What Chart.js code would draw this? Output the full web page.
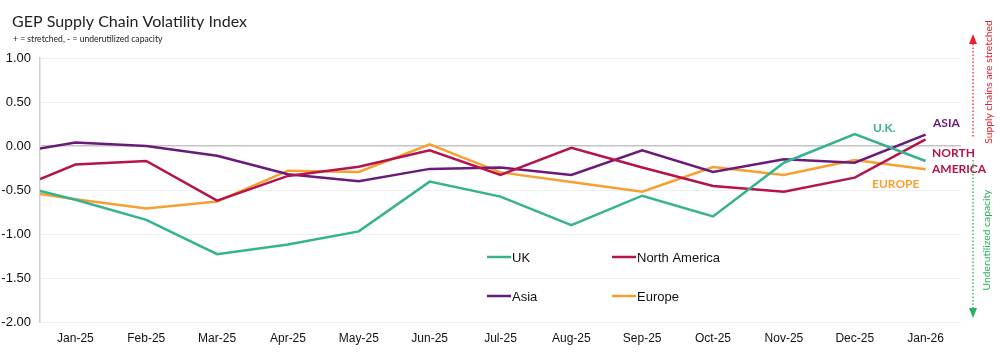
<!DOCTYPE html>
<html>
<head>
<meta charset="utf-8">
<script src="https://cdn.jsdelivr.net/npm/chart.js@4.4.1/dist/chart.umd.min.js"></script>
<style>
  html, body { margin: 0; padding: 0; background: #ffffff; }
  #wrap { width: 1000px; height: 357px; position: relative; }
</style>
</head>
<body>
<div id="wrap"><canvas id="c" width="1000" height="357"></canvas></div>
<script>
// ---- data ----
const months = ['Jan-25','Feb-25','Mar-25','Apr-25','May-25','Jun-25','Jul-25','Aug-25','Sep-25','Oct-25','Nov-25','Dec-25','Jan-26'];
// first value in each series is the value at the left edge of the plot (before Jan-25)
const ukValues     = [-0.51, -0.61, -0.84, -1.23, -1.12, -0.97, -0.405, -0.575, -0.90, -0.565, -0.80, -0.19, 0.135, -0.17];
const naValues     = [-0.375, -0.21, -0.17, -0.62, -0.34, -0.235, -0.05, -0.33, -0.02, -0.245, -0.455, -0.52, -0.36, 0.075];
const asiaValues   = [-0.03, 0.04, 0.00, -0.11, -0.32, -0.40, -0.26, -0.245, -0.33, -0.05, -0.295, -0.15, -0.19, 0.13];
const europeValues = [-0.545, -0.605, -0.71, -0.63, -0.28, -0.295, 0.02, -0.30, -0.41, -0.52, -0.24, -0.33, -0.16, -0.265];
const yTicks = [1.0, 0.5, 0.0, -0.5, -1.0, -1.5, -2.0];

const C_UK = '#35b28f', C_NA = '#b5134b', C_ASIA = '#6a1a78', C_EU = '#f5a031';

function toPoints(vals) {
  return vals.map((v, i) => ({ x: i === 0 ? -0.5 : i - 1, y: v }));
}

const FONT = '"Liberation Sans", Arial, sans-serif';
const CAL = 'Lato, "Open Sans", sans-serif';

const overlay = {
  id: 'overlay',
  afterDraw(chart) {
    const ctx = chart.ctx;
    ctx.save();
    // title
    ctx.fillStyle = '#222';
    ctx.textBaseline = 'alphabetic';
    ctx.textAlign = 'left';
    ctx.font = '16px ' + CAL;
    ctx.fillText('GEP Supply Chain Volatility Index', 12, 27);
    ctx.font = '8.6px ' + CAL;
    ctx.fillText('+ = stretched, - = underutilized capacity', 13, 42);

    // legend
    const ds = chart.data.datasets;
    const pos = [[487, 257], [612, 257], [487, 296], [612, 296]];
    ctx.font = '13px ' + FONT;
    ctx.textBaseline = 'middle';
    ds.forEach((d, i) => {
      const [lx, ly] = pos[i];
      ctx.strokeStyle = d.borderColor;
      ctx.lineWidth = 2.5;
      ctx.beginPath();
      ctx.moveTo(lx, ly);
      ctx.lineTo(lx + 24, ly);
      ctx.stroke();
      ctx.fillStyle = '#111';
      ctx.fillText(d.label, lx + 25, ly + 1);
    });

    // end labels
    ctx.font = 'bold 12px ' + CAL;
    ctx.textBaseline = 'middle';
    ctx.fillStyle = C_UK;   ctx.fillText('U.K.', 873, 128);
    ctx.fillStyle = C_ASIA; ctx.fillText('ASIA', 933, 123);
    ctx.fillStyle = C_NA;   ctx.fillText('NORTH', 932, 153); ctx.fillText('AMERICA', 932, 169);
    ctx.fillStyle = C_EU;   ctx.fillText('EUROPE', 872, 184);

    // right-side arrows
    const ax = 973;
    ctx.lineWidth = 1.3;
    ctx.setLineDash([1.5, 2]);
    ctx.strokeStyle = '#e8202a';
    ctx.beginPath(); ctx.moveTo(ax, 44); ctx.lineTo(ax, 138); ctx.stroke();
    ctx.strokeStyle = '#27b35a';
    ctx.beginPath(); ctx.moveTo(ax, 160); ctx.lineTo(ax, 308); ctx.stroke();
    ctx.setLineDash([]);
    ctx.fillStyle = '#e8202a';
    ctx.beginPath(); ctx.moveTo(ax, 34); ctx.lineTo(ax - 4, 44); ctx.lineTo(ax + 4, 44); ctx.closePath(); ctx.fill();
    ctx.fillStyle = '#27b35a';
    ctx.beginPath(); ctx.moveTo(ax, 318); ctx.lineTo(ax - 4, 308); ctx.lineTo(ax + 4, 308); ctx.closePath(); ctx.fill();

    ctx.font = '10.3px ' + CAL;
    ctx.textAlign = 'center';
    ctx.translate(989, 82);
    ctx.rotate(-Math.PI / 2);
    ctx.fillStyle = '#e8202a';
    ctx.fillText('Supply chains are stretched', 0, 0);
    ctx.rotate(Math.PI / 2);
    ctx.translate(-2, 158);
    ctx.rotate(-Math.PI / 2);
    ctx.fillStyle = '#27b35a';
    ctx.fillText('Underutilized capacity', 0, 0);
    ctx.restore();
  }
};

const mk = (label, vals, color) => ({
  label, data: toPoints(vals), borderColor: color, backgroundColor: color,
  borderWidth: 2.5, pointRadius: 0, tension: 0, fill: false
});

new Chart(document.getElementById('c'), {
  type: 'line',
  data: {
    datasets: [
      mk('UK', ukValues, C_UK),
      mk('North America', naValues, C_NA),
      mk('Asia', asiaValues, C_ASIA),
      mk('Europe', europeValues, C_EU)
    ]
  },
  options: {
    responsive: false,
    animation: false,
    devicePixelRatio: 1,
    layout: { padding: { top: 58, right: 39, left: 0, bottom: 0 } },
    plugins: { legend: { display: false }, tooltip: { enabled: false }, title: { display: false } },
    scales: {
      x: {
        type: 'linear', min: -0.5, max: 12.5,
        afterBuildTicks: (s) => { s.ticks = months.map((m, i) => ({ value: i })); },
        afterFit: (s) => { s.height = 35; },
        grid: { display: false },
        border: { display: false },
        ticks: {
          autoSkip: false, maxRotation: 0, padding: 1,
          color: '#111', font: { family: FONT, size: 12 },
          callback: (v) => months[v] ?? ''
        }
      },
      y: {
        min: -2, max: 1,
        afterBuildTicks: (s) => { s.ticks = yTicks.map(v => ({ value: v })); },
        afterFit: (s) => { s.width = 40; },
        grid: {
          color: (c) => (c.tick && c.tick.value === 0 ? '#c4c4c4' : '#efefef'),
          lineWidth: (c) => (c.tick && c.tick.value === 0 ? 1.5 : 1),
          drawTicks: false
        },
        border: { display: true, color: '#cfcfcf', width: 1.5 },
        ticks: {
          padding: 9, color: '#111', font: { family: FONT, size: 13 },
          callback: (v) => Number(v).toFixed(2)
        }
      }
    }
  },
  plugins: [overlay]
});
</script>
</body>
</html>
